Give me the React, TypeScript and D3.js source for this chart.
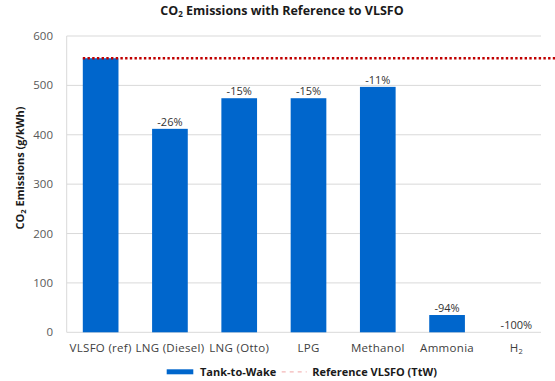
import React from "react";
import * as d3 from "d3";

const categories = ["VLSFO (ref)", "LNG (Diesel)", "LNG (Otto)", "LPG", "Methanol", "Ammonia", "H2"];
const tankToWake = [555, 412, 474, 474, 497, 35, 0];
const changeLabels = ["", "-26%", "-15%", "-15%", "-11%", "-94%", "-100%"];
const referenceValue = 555;
const yTicks = [0, 100, 200, 300, 400, 500, 600];

const W = 555;
const H = 381;
const FONT = "'Open Sans', 'DejaVu Sans', sans-serif";

export default function App() {
  const x = d3.scaleBand<string>().domain(categories).range([66, 551]).paddingInner(0.485).paddingOuter(0.2425);
  const y = d3.scaleLinear().domain([0, 600]).range([332.3, 36]);
  const gridLeft = 66.7;
  const gridRight = 541;

  return (
    <div style={{ position: "absolute", left: 0, top: 0 }}>
      <svg width={W} height={H} style={{ display: "block", background: "#fff" }} fontFamily={FONT}>
        <text x={282} y={15} textAnchor="middle" fontSize={12.5} fontWeight={700} fill="#1a1a1a">
          CO<tspan fontSize={8} dy={2}>2</tspan>
          <tspan dy={-2}> Emissions with Reference to VLSFO</tspan>
        </text>

        {yTicks.map((t) => (
          <g key={t}>
            <line x1={gridLeft} x2={gridRight} y1={y(t)} y2={y(t)} stroke="#d9d9d9" strokeWidth={1} />
            <text x={53} y={y(t)} dy="0.35em" textAnchor="end" fontSize={11.5} fill="#595959">
              {t}
            </text>
          </g>
        ))}
        <line x1={gridLeft} x2={gridLeft} y1={y(600)} y2={y(0)} stroke="#d9d9d9" strokeWidth={1} />

        <text
          transform={`translate(24,${168}) rotate(-90)`}
          textAnchor="middle"
          fontSize={11}
          fontWeight={700}
          fill="#1a1a1a"
        >
          CO<tspan fontSize={7.5} dy={2}>2</tspan>
          <tspan dy={-2}> Emissions (g/kWh)</tspan>
        </text>

        {categories.map((c, i) => (
          <g key={c}>
            <rect
              x={x(c)}
              y={y(tankToWake[i])}
              width={x.bandwidth()}
              height={y(0) - y(tankToWake[i])}
              fill="#0066cc"
            />
            {changeLabels[i] && (
              <text
                x={(x(c) as number) + x.bandwidth() / 2}
                y={y(tankToWake[i]) - 3}
                textAnchor="middle"
                fontSize={11}
                fill="#333"
              >
                {changeLabels[i]}
              </text>
            )}
            <text
              x={(x(c) as number) + x.bandwidth() / 2}
              y={352}
              textAnchor="middle"
              fontSize={11.5}
              letterSpacing={0.3}
              fill="#404040"
            >
              {c === "H2" ? (
                <>
                  H<tspan fontSize={7.5} dy={2}>2</tspan>
                </>
              ) : (
                c
              )}
            </text>
          </g>
        ))}

        <line
          x1={x(categories[0])}
          x2={555}
          y1={y(referenceValue)}
          y2={y(referenceValue)}
          stroke="#c00000"
          strokeWidth={2.5}
          strokeDasharray="2.4 2.3"
        />

        <g>
          <rect x={166.7} y={369.3} width={26.6} height={5} fill="#0066cc" />
          <text x={200} y={375.5} fontSize={11} fontWeight={700} fill="#1a1a1a">
            Tank-to-Wake
          </text>
          <line x1={281.7} x2={306.7} y1={371.8} y2={371.8} stroke="#f4b8b8" strokeWidth={1.2} strokeDasharray="4 4" />
          <text x={312.3} y={375.5} fontSize={11} fontWeight={700} fill="#1a1a1a">
            Reference VLSFO (TtW)
          </text>
        </g>
      </svg>
    </div>
  );
}
